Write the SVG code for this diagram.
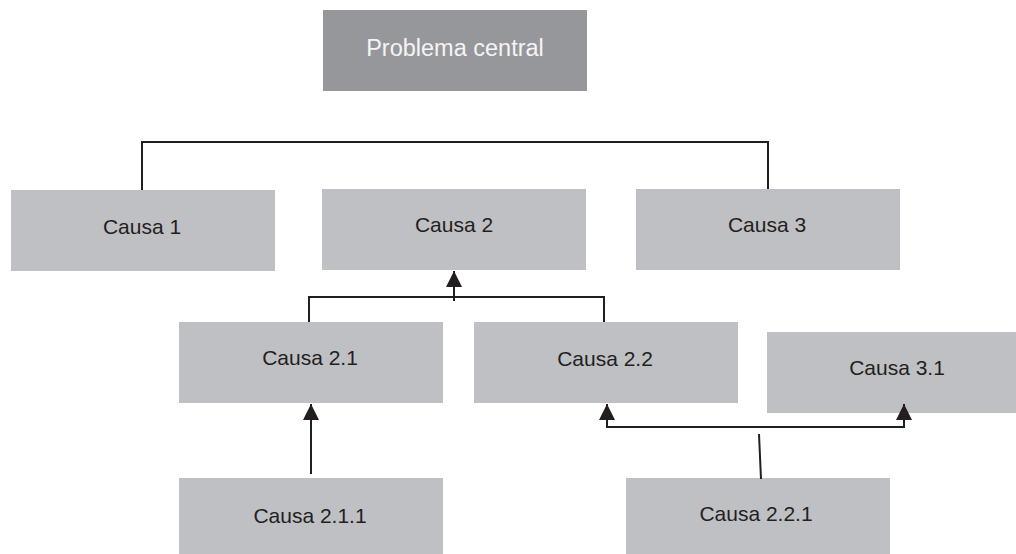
<svg xmlns="http://www.w3.org/2000/svg" width="1016" height="554" viewBox="0 0 1016 554">
<style>
.box{fill:#bfc0c4}
.top{fill:#96979b}
.t{font-family:"Liberation Sans",Arial,sans-serif;font-size:21px;fill:#231f20;text-anchor:middle}
.tt{font-family:"Liberation Sans",Arial,sans-serif;font-size:23.5px;fill:#f4f4f4;text-anchor:middle}
.c{fill:none;stroke:#231f20;stroke-width:2}
</style>
<defs>
<marker id="ah" markerUnits="userSpaceOnUse" markerWidth="16" markerHeight="16" refX="16" refY="8" orient="auto">
<path d="M0,0 L16,8 L0,16 Z" fill="#231f20"/>
</marker>
</defs>
<g id="problema-central">
<rect class="top" x="323" y="10" width="264" height="81"/>
<text class="tt" x="455" y="56">Problema central</text>
</g>
<g id="causa-1">
<rect class="box" x="11" y="190" width="264" height="81"/>
<text class="t" x="142" y="234">Causa 1</text>
</g>
<g id="causa-2">
<rect class="box" x="322" y="189" width="264" height="81"/>
<text class="t" x="454" y="232">Causa 2</text>
</g>
<g id="causa-3">
<rect class="box" x="636" y="189" width="264" height="81"/>
<text class="t" x="767" y="232">Causa 3</text>
</g>
<g id="causa-2-1">
<rect class="box" x="179" y="322" width="264" height="81"/>
<text class="t" x="310" y="365">Causa 2.1</text>
</g>
<g id="causa-2-2">
<rect class="box" x="474" y="322" width="264" height="81"/>
<text class="t" x="605" y="366">Causa 2.2</text>
</g>
<g id="causa-3-1">
<rect class="box" x="767" y="332" width="249" height="81"/>
<text class="t" x="897" y="375">Causa 3.1</text>
</g>
<g id="causa-2-1-1">
<rect class="box" x="179" y="478" width="264" height="76"/>
<text class="t" x="310" y="523">Causa 2.1.1</text>
</g>
<g id="causa-2-2-1">
<rect class="box" x="626" y="478" width="264" height="76"/>
<text class="t" x="756" y="521">Causa 2.2.1</text>
</g>
<g id="connectors">
<path class="c" d="M142,190 V142 H768 V189"/>
<path class="c" d="M309,322 V297 H604 V322"/>
<path class="c" d="M454,301 V271" marker-end="url(#ah)"/>
<path class="c" d="M311,474 V404" marker-end="url(#ah)"/>
<path class="c" d="M759,434 L761,479"/>
<path class="c" d="M607,404 V427 H904 V404"/>
<path class="c" d="M607,420 V404" marker-end="url(#ah)"/>
<path class="c" d="M904,420 V404" marker-end="url(#ah)"/>
</g>
</svg>
